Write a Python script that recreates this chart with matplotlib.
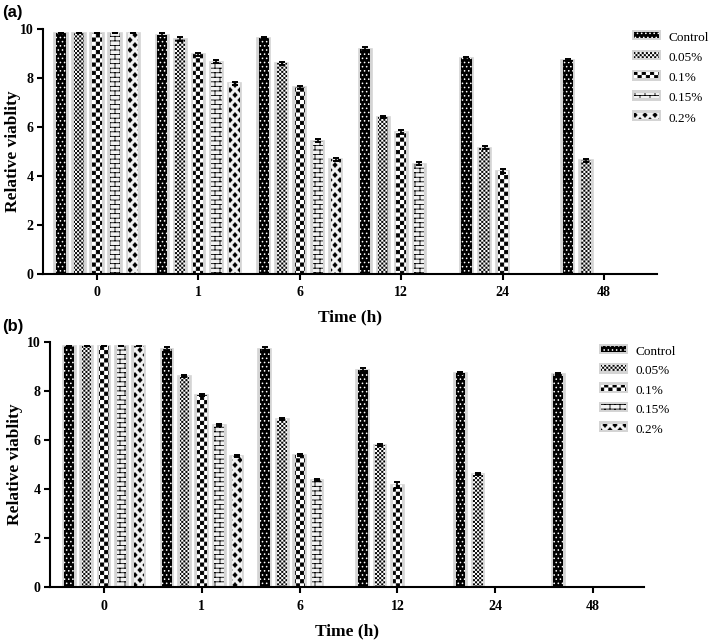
import warnings
warnings.filterwarnings('ignore')
import numpy as np
import matplotlib
matplotlib.use('Agg')
import matplotlib.pyplot as plt
import matplotlib.patches as mpatches
import matplotlib.hatch as mhatch
from matplotlib.path import Path

nan = np.nan
# ---------------- data ----------------
times = ['0', '1', '6', '12', '24', '48']
series = ['Control', '0.05%', '0.1%', '0.15%', '0.2%']

a_control = [9.85, 9.77, 9.62, 9.20, 8.80, 8.72]
a_005 = [9.85, 9.60, 8.60, 6.42, 5.16, 4.64]
a_01 = [9.85, 8.97, 7.63, 5.80, 4.20, nan]
a_015 = [9.85, 8.67, 5.43, 4.50, nan, nan]
a_02 = [9.85, 7.78, 4.68, nan, nan, nan]

a_control_err = [0.0, 0.05, 0.04, 0.05, 0.05, 0.04]
a_005_err = [0.0, 0.08, 0.05, 0.04, 0.06, 0.06]
a_01_err = [0.0, 0.06, 0.06, 0.07, 0.07, nan]
a_015_err = [0.0, 0.05, 0.06, 0.06, nan, nan]
a_02_err = [0.0, 0.06, 0.07, nan, nan, nan]

b_control = [9.84, 9.69, 9.72, 8.86, 8.72, 8.70]
b_005 = [9.84, 8.59, 6.84, 5.79, 4.63, nan]
b_01 = [9.84, 7.83, 5.39, 4.17, nan, nan]
b_015 = [9.84, 6.61, 4.37, nan, nan, nan]
b_02 = [9.84, 5.33, nan, nan, nan, nan]

b_control_err = [0.0, 0.08, 0.06, 0.05, 0.05, 0.04]
b_005_err = [0.0, 0.04, 0.04, 0.04, 0.04, nan]
b_01_err = [0.0, 0.04, 0.04, 0.12, nan, nan]
b_015_err = [0.0, 0.04, 0.05, nan, nan, nan]
b_02_err = [0.0, 0.04, nan, nan, nan, nan]

# ---------------- custom hatches ----------------
class _Checker(mhatch.HatchPatternBase):
    inset = 0.0045

    def __init__(self, hatch, density):
        n = hatch.count('c') * int(density)
        n += n % 2
        self.n = n
        self.num_vertices = (n * n // 2) * 5 if n else 0

    def set_vertices_and_codes(self, vertices, codes):
        n = self.n
        s = 1.0 / n
        d = self.inset
        k = 0
        for i in range(n):
            for j in range(n):
                if (i + j) % 2 == 0:
                    x, y = i * s + d, j * s + d
                    t = s - 2 * d
                    vertices[k:k + 5] = [[x, y], [x + t, y], [x + t, y + t], [x, y + t], [x, y]]
                    codes[k:k + 5] = [Path.MOVETO, Path.LINETO, Path.LINETO, Path.LINETO, Path.CLOSEPOLY]
                    k += 5


class _Brick(mhatch.HatchPatternBase):
    R, C = 22, 10

    def __init__(self, hatch, density):
        self.on = hatch.count('b') > 0
        if not self.on:
            self.num_vertices = 0
            return
        R, C = self.R, self.C
        nseg = (R + 1)
        for i in range(R):
            nseg += (C + 1) if i % 2 == 0 else C
        self.num_vertices = nseg * 2

    def set_vertices_and_codes(self, vertices, codes):
        R, C = self.R, self.C
        segs = []
        for i in range(R + 1):
            y = i / R
            segs.append(((0, y), (1, y)))
        for i in range(R):
            y0, y1 = i / R, (i + 1) / R
            if i % 2 == 0:
                xs = [j / C for j in range(C + 1)]
            else:
                xs = [(j + 0.5) / C for j in range(C)]
            for x in xs:
                segs.append(((x, y0), (x, y1)))
        k = 0
        for p0, p1 in segs:
            vertices[k] = p0
            vertices[k + 1] = p1
            codes[k] = Path.MOVETO
            codes[k + 1] = Path.LINETO
            k += 2


class _Diamonds(mhatch.HatchPatternBase):
    R, C = 20, 10
    hw, hh = 0.021, 0.023

    def __init__(self, hatch, density):
        self.on = hatch.count('d') > 0
        if not self.on:
            self.num_vertices = 0
            return
        n = 0
        for i in range(self.R + 1):
            n += (self.C + 1) if i % 2 == 0 else self.C
        self.num_vertices = n * 5

    def set_vertices_and_codes(self, vertices, codes):
        R, C, hw, hh = self.R, self.C, self.hw, self.hh
        k = 0
        for i in range(R + 1):
            y = i / R
            if i % 2 == 0:
                xs = [j / C for j in range(C + 1)]
            else:
                xs = [(j + 0.5) / C for j in range(C)]
            for x in xs:
                vertices[k:k + 5] = [[x, y - hh], [x + hw, y], [x, y + hh], [x - hw, y], [x, y - hh]]
                codes[k:k + 5] = [Path.MOVETO, Path.LINETO, Path.LINETO, Path.LINETO, Path.CLOSEPOLY]
                k += 5


mhatch._hatch_types.extend([_Checker, _Brick, _Diamonds])

# ---------------- styles ----------------
plt.rcParams['font.family'] = ['Liberation Serif', 'DejaVu Serif']
plt.rcParams['hatch.linewidth'] = 0.6

styles = [
    dict(facecolor='black', edgecolor='white', hatch='....'),
    dict(facecolor='white', edgecolor='black', hatch='cccccccc'),
    dict(facecolor='white', edgecolor='black', hatch='cccc'),
    dict(facecolor='#f2f2f2', edgecolor='black', hatch='b'),
    dict(facecolor='#f2f2f2', edgecolor='black', hatch='d'),
]
GRAY = '#d4d4d4'


class GrayBoxHandler:
    def legend_artist(self, legend, orig_handle, fontsize, handlebox):
        x0, y0 = handlebox.xdescent, handlebox.ydescent
        w, h = handlebox.width, handlebox.height
        bg = mpatches.Rectangle([x0, y0], w, h, facecolor=GRAY, edgecolor='none',
                                transform=handlebox.get_transform())
        fg = mpatches.Rectangle([x0 + 0.08 * w, y0 + 0.22 * h], 0.84 * w, 0.56 * h,
                                facecolor=orig_handle.get_facecolor(),
                                edgecolor=orig_handle.get_edgecolor(),
                                hatch=orig_handle.get_hatch(), lw=0,
                                transform=handlebox.get_transform())
        handlebox.add_artist(bg)
        handlebox.add_artist(fg)
        return bg


fig = plt.figure(figsize=(7.09, 6.4), dpi=100)

step = 0.178
inner_w = 0.10
outer_w = 0.13


def draw_panel(ax, vals, errs, xlim, legend_anchor, ylab_x, xlab_y, lspace):
    x = np.arange(len(times))
    for i, (v, e, st) in enumerate(zip(vals, errs, styles)):
        pos = x + (i - 2) * step
        v = np.array(v, dtype=float)
        ax.bar(pos, v, width=outer_w, color=GRAY, edgecolor=GRAY, linewidth=1.2, zorder=1)
        ax.bar(pos, v, width=inner_w, linewidth=0, zorder=2, **st)
        ax.errorbar(pos, v, yerr=np.array(e, dtype=float), fmt='none', ecolor='black',
                    elinewidth=1.2, capsize=2, capthick=1.4, zorder=3)
    ax.set_xlim(*xlim)
    ax.set_ylim(0, 10)
    ax.set_yticks([0, 2, 4, 6, 8, 10])
    ax.set_xticks(x)
    ax.set_xticklabels(times)
    for sp in ['top', 'right']:
        ax.spines[sp].set_visible(False)
    for sp in ['left', 'bottom']:
        ax.spines[sp].set_linewidth(1.5)
    ax.tick_params(axis='both', width=1.5, length=4, labelsize=10)
    ax.tick_params(axis='x', pad=5)
    ax.tick_params(axis='y', pad=3)
    for lab in ax.get_xticklabels() + ax.get_yticklabels():
        lab.set_fontweight('bold')
    ax.set_ylabel('Relative viablity', fontsize=12.5, fontweight='bold', va='center')
    ax.yaxis.set_label_coords(ylab_x, 0.5)
    ax.set_xlabel('Time (h)', fontsize=12.5, fontweight='bold', va='center')
    ax.xaxis.set_label_coords(0.5, xlab_y)
    handles = [mpatches.Patch(**st) for st in styles]
    hm = {h: GrayBoxHandler() for h in handles}
    fig.legend(handles, series, loc='upper left', bbox_to_anchor=legend_anchor,
               bbox_transform=fig.transFigure, frameon=False, fontsize=9.5,
               handlelength=2.2, handleheight=0.85, handletextpad=0.6,
               labelspacing=lspace, borderpad=0, borderaxespad=0, handler_map=hm)


ax1 = fig.add_axes([43 / 709, 1 - 274 / 640, (657 - 43) / 709, (274 - 29) / 640])
draw_panel(ax1, [a_control, a_005, a_01, a_015, a_02],
           [a_control_err, a_005_err, a_01_err, a_015_err, a_02_err],
           (-0.533, 5.523), (632 / 709, 1 - 31 / 640), -0.049, -0.1755, 0.56)

ax2 = fig.add_axes([50 / 709, 1 - 587.3 / 640, (644 - 50) / 709, (587.3 - 341.7) / 640])
draw_panel(ax2, [b_control, b_005, b_01, b_015, b_02],
           [b_control_err, b_005_err, b_01_err, b_015_err, b_02_err],
           (-0.552, 5.52), (599 / 709, 1 - 345 / 640), -0.059, -0.181, 0.5)

fig.text(2 / 709, 1 - 13 / 640, '(a)', fontsize=12, fontweight='bold',
         family=['Liberation Sans', 'DejaVu Sans'], ha='left', va='center')
fig.text(2 / 709, 1 - 327 / 640, '(b)', fontsize=12, fontweight='bold',
         family=['Liberation Sans', 'DejaVu Sans'], ha='left', va='center')

fig.savefig('out.png', dpi=100)
